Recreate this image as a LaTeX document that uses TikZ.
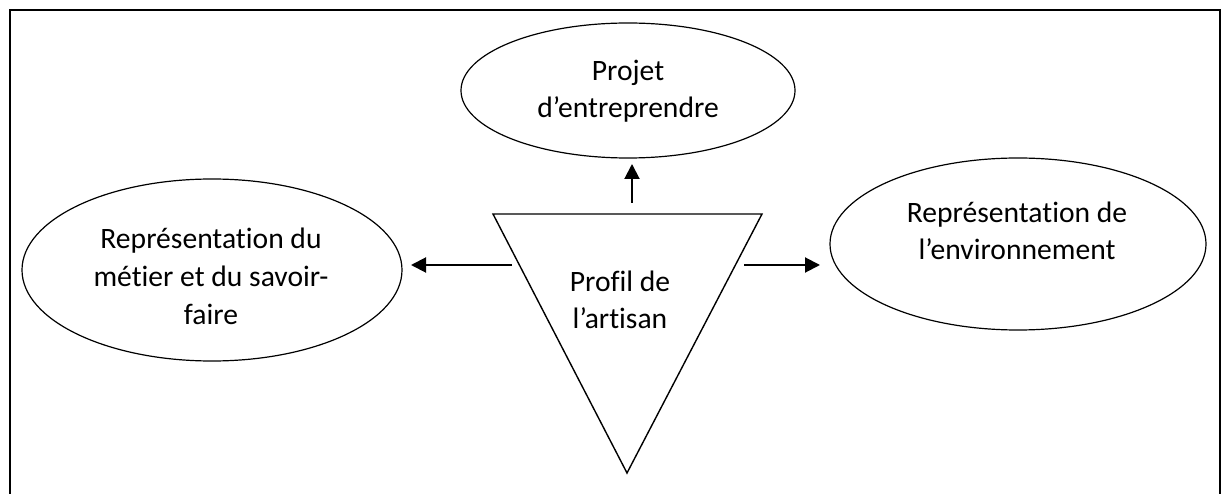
\documentclass[tikz,border=0pt]{standalone}
\usepackage{fontspec}
\setmainfont{Carlito}[Ligatures={NoCommon,NoContextual}]
\usetikzlibrary{shapes.geometric,arrows.meta}
\tikzset{
  oval/.style={draw, ellipse, line width=1.2pt, inner sep=0pt},
  lbl/.style={align=center, anchor=base, inner sep=0pt, font=\fontsize{29.6}{37.5}\selectfont},
  conn/.style={line width=2pt, -{Triangle[length=15pt,width=15pt]}},
  frame/.style={line width=2pt},
  tri/.style={line width=1.4pt, line join=miter}
}
\begin{document}
\begin{tikzpicture}[x=1pt,y=-1pt]
\useasboundingbox (0,0) rectangle (1221,494);
% frame (open at bottom)
\coordinate (fbl) at (9.5,500);
\coordinate (ftl) at (9.5,10);
\coordinate (ftr) at (1219.5,10);
\coordinate (fbr) at (1219.5,500);
\draw[frame] (fbl) -- (ftl) -- (ftr) -- (fbr);
% ellipses
\node[oval, minimum width=334pt, minimum height=135pt] (proj) at (628,90.5) {};
\node[oval, minimum width=380pt, minimum height=182pt] (metier) at (212,270) {};
\node[oval, minimum width=376pt, minimum height=172pt] (envir) at (1018,244) {};
% triangle
\coordinate (tl) at (493,214);
\coordinate (tr) at (762,214);
\coordinate (tb) at (627,473);
\draw[tri] (tl) -- (tr) -- (tb) -- cycle;
% texts (anchor = baseline of last line)
\node[lbl] (tproj) at (628,118) {Projet\\d’entreprendre};
\node[lbl] (tmetier) at (211,324) {Représentation du\\métier et du savoir-\\faire};
\node[lbl] (tenvir) at (1017,260) {Représentation de\\l’environnement};
\node[lbl] (tprofil) at (620,329) {Profil de\\l’artisan};
% arrow ends
\coordinate (upS) at (632,203);
\coordinate (upE) at (632,164);
\coordinate (lfS) at (512,265);
\coordinate (lfE) at (411,265);
\coordinate (rtS) at (744,265);
\coordinate (rtE) at (820,265);
\draw[conn] (upS) -- (upE);
\draw[conn] (lfS) -- (lfE);
\draw[conn] (rtS) -- (rtE);
\end{tikzpicture}
\end{document}
